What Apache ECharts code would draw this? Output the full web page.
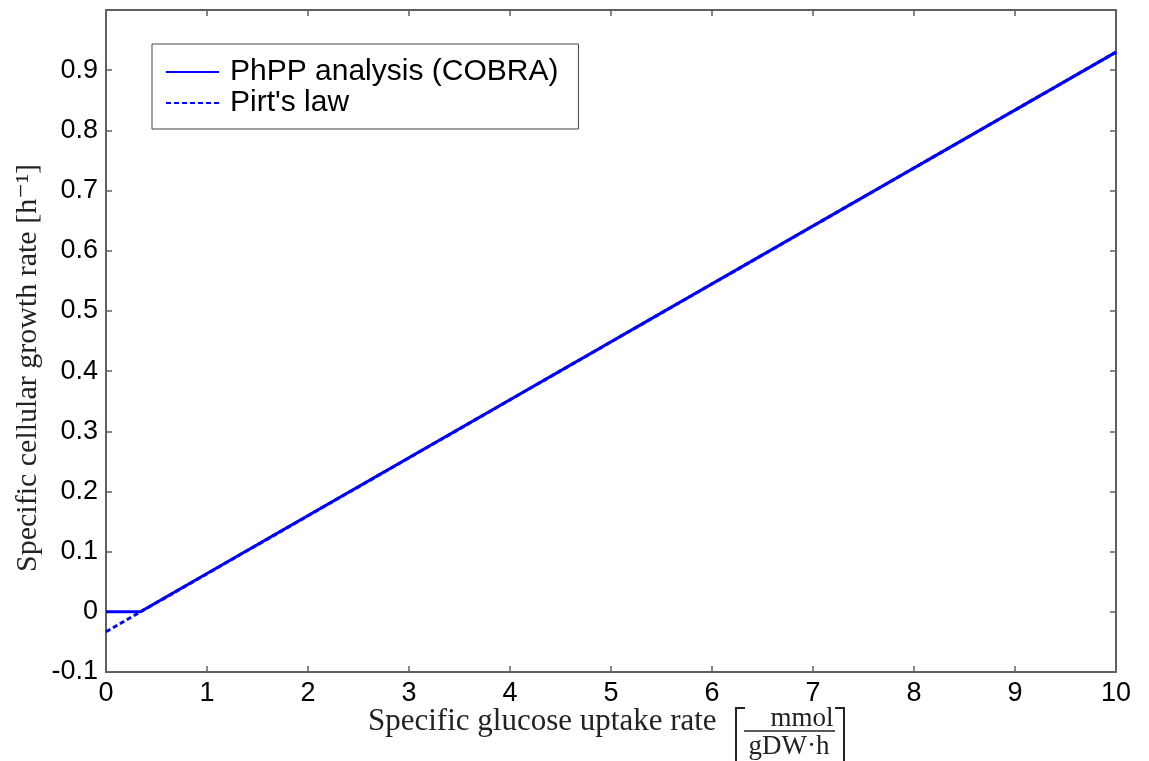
<!DOCTYPE html>
<html>
<head>
<meta charset="utf-8">
<script src="https://cdn.jsdelivr.net/npm/echarts@6/dist/echarts.min.js"></script>
<style>
  html, body { margin: 0; padding: 0; background: #fff; }
  #chart { width: 1149px; height: 761px; }
</style>
</head>
<body>
<div id="chart"></div>
<script>
// data
var seriesNames = ['PhPP analysis (COBRA)', "Pirt's law"];
var phppX = [0, 0.34, 10];
var phppY = [0, 0, 0.93];
var pirtX = [0, 10];
var pirtY = [-0.033, 0.93];

var chart = echarts.init(document.getElementById('chart'));

function pairs(xs, ys) {
    return xs.map(function (x, i) { return [x, ys[i]]; });
}

var serif = '"Liberation Serif", "DejaVu Serif", serif';
var sans = 'Arial, "Liberation Sans", sans-serif';
var boxColor = '#606060';

function axisBits() {
    return {
        axisLine: { show: true, onZero: false, lineStyle: { color: boxColor, width: 2 } },
        axisTick: { show: true, inside: true, length: 6, lineStyle: { color: boxColor, width: 1.5 } },
        splitLine: { show: false }
    };
}

chart.setOption({
    animation: false,
    backgroundColor: '#fff',
    grid: { left: 106, right: 33, top: 10, bottom: 89 },
    legend: {
        orient: 'vertical',
        left: 152,
        top: 44,
        itemWidth: 53,
        itemHeight: 14,
        itemGap: 1,
        padding: [13, 20, 11, 13],
        borderColor: '#444',
        borderWidth: 1,
        backgroundColor: '#fff',
        itemStyle: { opacity: 0 },
        textStyle: { fontFamily: sans, fontSize: 30, color: '#000', padding: [0, 0, 0, 6] },
        data: seriesNames
    },
    xAxis: [Object.assign({
        type: 'value',
        min: 0, max: 10, interval: 1,
        axisLabel: { color: '#000', fontSize: 27, fontFamily: sans, margin: 8 }
    }, axisBits()), Object.assign({
        type: 'value', position: 'top',
        min: 0, max: 10, interval: 1,
        axisLabel: { show: false }
    }, axisBits())],
    yAxis: [Object.assign({
        type: 'value',
        min: -0.1, max: 1.0, interval: 0.1,
        axisLabel: {
            color: '#000', fontSize: 27, fontFamily: sans, margin: 8,
            formatter: function (v) { return Math.abs(v - 1) < 1e-9 ? '' : String(+v.toFixed(1)); }
        }
    }, axisBits()), Object.assign({
        type: 'value', position: 'right',
        min: -0.1, max: 1.0, interval: 0.1,
        axisLabel: { show: false }
    }, axisBits())],
    series: [{
        name: seriesNames[0],
        type: 'line',
        data: pairs(phppX, phppY),
        symbol: 'none',
        lineStyle: { color: '#0000ff', width: 3 },
        itemStyle: { color: '#0000ff' },
        z: 3
    }, {
        name: seriesNames[1],
        type: 'line',
        data: pairs(pirtX, pirtY),
        symbol: 'none',
        lineStyle: { color: '#0000ff', width: 3, type: [5, 3] },
        itemStyle: { color: '#0000ff' },
        z: 2
    }],
    graphic: [{
        type: 'text',
        x: 28, y: 368,
        rotation: Math.PI / 2,
        style: {
            text: 'Specific cellular growth rate [h\u207B\u00B9]',
            font: '30px ' + serif,
            fill: '#222',
            align: 'center',
            verticalAlign: 'middle'
        }
    }, {
        type: 'text',
        x: 368, y: 722,
        style: {
            text: 'Specific glucose uptake rate',
            font: '31px ' + serif,
            fill: '#222',
            align: 'left',
            verticalAlign: 'middle'
        }
    }, {
        type: 'polyline',
        shape: { points: [[745, 708], [736, 708], [736, 761]] },
        style: { stroke: '#222', lineWidth: 2, fill: null }
    }, {
        type: 'polyline',
        shape: { points: [[835, 708], [844, 708], [844, 761]] },
        style: { stroke: '#222', lineWidth: 2, fill: null }
    }, {
        type: 'text',
        x: 802, y: 719,
        style: { text: 'mmol', font: '27px ' + serif, fill: '#222', align: 'center', verticalAlign: 'middle' }
    }, {
        type: 'line',
        shape: { x1: 744, y1: 731, x2: 835, y2: 731 },
        style: { stroke: '#222', lineWidth: 1.5 }
    }, {
        type: 'text',
        x: 789, y: 747,
        style: { text: 'gDW\u00B7h', font: '27px ' + serif, fill: '#222', align: 'center', verticalAlign: 'middle' }
    }]
});
</script>
</body>
</html>
